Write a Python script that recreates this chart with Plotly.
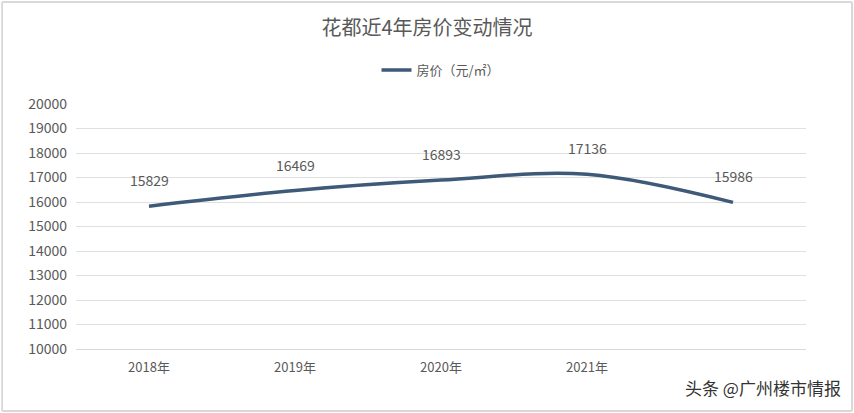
import plotly.graph_objects as go

years = ["2018年", "2019年", "2020年", "2021年", ""]
prices = [15829, 16469, 16893, 17136, 15986]
series_name = "房价（元/㎡）"

xs = list(range(len(prices)))
line_color = "#3E5A78"

fig = go.Figure()
fig.add_trace(go.Scatter(
    x=xs, y=prices, mode="lines", name=series_name,
    line=dict(color=line_color, width=3.5, shape="spline", smoothing=1.0),
    hoverinfo="skip",
))

for x, y in zip(xs, prices):
    fig.add_annotation(x=x, y=y, text=str(y), showarrow=False, yshift=26,
                       font=dict(size=14, color="#595959"))

# category boundary gridlines
for i in range(len(prices) + 1):
    fig.add_shape(type="line", xref="x", yref="paper", x0=i - 0.5, x1=i - 0.5,
                  y0=0, y1=1, line=dict(color="#E0E0E0", width=1), layer="below")

fig.add_annotation(xref="paper", yref="paper", x=1.051, y=-0.159, xanchor="right",
                   yanchor="middle", text="头条 @广州楼市情报", showarrow=False,
                   font=dict(size=17, color="#333333"))

fig.update_layout(
    width=854, height=413,
    margin=dict(l=76, r=48, t=104, b=64, autoexpand=False),
    paper_bgcolor="white", plot_bgcolor="white",
    font=dict(family="Noto Sans CJK SC", color="#595959"),
    title=dict(text="花都近4年房价变动情况", x=0.5, y=0.932, xanchor="center",
               yanchor="middle", font=dict(size=20, color="#595959")),
    showlegend=True,
    legend=dict(orientation="h", x=0.5, y=1.139, xanchor="center", yanchor="middle",
                font=dict(size=13, color="#595959")),
    xaxis=dict(range=[-0.5, len(prices) - 0.5], tickvals=xs, ticktext=years,
               showgrid=False, zeroline=False, showline=True, linecolor="#D9D9D9",
               automargin=False, ticklabelstandoff=6,
               tickfont=dict(size=13, color="#595959")),
    yaxis=dict(range=[10000, 20000], dtick=1000, tickformat="d", showgrid=True,
               gridcolor="#E0E0E0", zeroline=False, automargin=False,
               ticklabelstandoff=8, tickfont=dict(size=14, color="#595959"), ticklen=0),
    shapes=[dict(type="rect", xref="paper", yref="paper", x0=-0.101, x1=1.063,
                 y0=-0.253, y1=1.416, line=dict(color="#D9D9D9", width=1))],
)

fig.write_html("out.html", config={"displayModeBar": False},
               post_script="document.body.style.margin='0';")
